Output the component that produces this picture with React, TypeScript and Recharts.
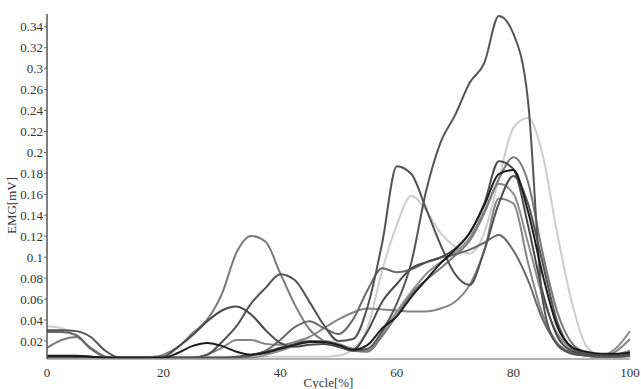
import React from "react";
import { LineChart, Line, XAxis, YAxis } from "recharts";

// cycle position in %, sampled every 2.5
const cycle = [
  0, 2.5, 5, 7.5, 10, 12.5, 15, 17.5, 20, 22.5, 25, 27.5, 30, 32.5, 35, 37.5,
  40, 42.5, 45, 47.5, 50, 52.5, 55, 57.5, 60, 62.5, 65, 67.5, 70, 72.5, 75,
  77.5, 80, 82.5, 85, 87.5, 90, 92.5, 95, 97.5, 100,
];

// EMG traces in mV
const trialA = [
  0.031, 0.031, 0.03, 0.024, 0.01, 0.003, 0.003, 0.003, 0.003, 0.003, 0.003,
  0.003, 0.003, 0.004, 0.006, 0.009, 0.013, 0.017, 0.02, 0.019, 0.015, 0.01,
  0.012, 0.03, 0.058, 0.1, 0.172, 0.222, 0.25, 0.283, 0.303, 0.351, 0.333,
  0.265, 0.062, 0.016, 0.007, 0.005, 0.004, 0.004, 0.005,
];
const trialB = [
  0.029, 0.029, 0.026, 0.012, 0.004, 0.003, 0.003, 0.003, 0.003, 0.003, 0.003,
  0.003, 0.003, 0.003, 0.005, 0.01, 0.021, 0.034, 0.04, 0.033, 0.027, 0.042,
  0.072, 0.094, 0.09, 0.093, 0.1, 0.105, 0.108, 0.113, 0.12, 0.128, 0.112,
  0.082, 0.042, 0.017, 0.008, 0.005, 0.004, 0.004, 0.005,
];
const trialC = [
  0.013, 0.021, 0.024, 0.013, 0.004, 0.002, 0.002, 0.003, 0.006, 0.014, 0.028,
  0.042, 0.068, 0.11, 0.127, 0.121, 0.089, 0.057, 0.032, 0.02, 0.014, 0.01,
  0.009, 0.025, 0.046, 0.068, 0.082, 0.094, 0.107, 0.122, 0.15, 0.185, 0.207,
  0.182, 0.11, 0.05, 0.018, 0.008, 0.005, 0.006, 0.01,
];
const trialD = [
  0.004, 0.004, 0.004, 0.004, 0.003, 0.003, 0.003, 0.003, 0.003, 0.003, 0.003,
  0.006, 0.019, 0.035, 0.058, 0.074, 0.088, 0.082, 0.06, 0.036, 0.02, 0.022,
  0.055, 0.12, 0.198, 0.19, 0.155, 0.118, 0.088, 0.077, 0.112, 0.16, 0.188,
  0.16, 0.1, 0.04, 0.013, 0.007, 0.005, 0.005, 0.006,
];
const trialE = [
  0.004, 0.004, 0.004, 0.004, 0.003, 0.003, 0.003, 0.003, 0.004, 0.014, 0.026,
  0.04, 0.051, 0.055, 0.047, 0.031, 0.018, 0.014, 0.016, 0.017, 0.014, 0.011,
  0.03, 0.06, 0.078, 0.094, 0.1, 0.105, 0.114, 0.13, 0.16, 0.203, 0.195,
  0.138, 0.07, 0.025, 0.01, 0.006, 0.005, 0.005, 0.006,
];
const trialF = [
  0.005, 0.005, 0.005, 0.004, 0.003, 0.003, 0.003, 0.003, 0.003, 0.008, 0.015,
  0.018, 0.015, 0.009, 0.006, 0.008, 0.012, 0.016, 0.019, 0.019, 0.016, 0.011,
  0.016, 0.033, 0.045, 0.065, 0.082, 0.099, 0.113, 0.13, 0.158, 0.19, 0.194,
  0.152, 0.088, 0.035, 0.014, 0.009, 0.007, 0.007, 0.008,
];
const trialG = [
  0.003, 0.003, 0.003, 0.003, 0.003, 0.003, 0.003, 0.003, 0.003, 0.003, 0.003,
  0.006, 0.013, 0.021, 0.021, 0.017, 0.016, 0.019, 0.024, 0.033, 0.042, 0.049,
  0.053, 0.052, 0.051, 0.05, 0.05, 0.053, 0.06, 0.077, 0.112, 0.165, 0.16,
  0.1, 0.047, 0.018, 0.008, 0.005, 0.004, 0.009, 0.022,
];
const trialH = [
  0.035, 0.033, 0.025, 0.012, 0.004, 0.004, 0.004, 0.004, 0.004, 0.004, 0.004,
  0.004, 0.004, 0.004, 0.004, 0.004, 0.004, 0.004, 0.004, 0.004, 0.005, 0.012,
  0.034, 0.092, 0.138, 0.168, 0.153, 0.13, 0.116, 0.109, 0.13, 0.185, 0.237,
  0.247, 0.21, 0.13, 0.06, 0.015, 0.005, 0.004, 0.004,
];
const trialI = [
  0.004, 0.004, 0.004, 0.004, 0.003, 0.003, 0.003, 0.003, 0.003, 0.003, 0.003,
  0.003, 0.003, 0.003, 0.003, 0.006, 0.01, 0.015, 0.019, 0.02, 0.017, 0.012,
  0.01, 0.028, 0.05, 0.07, 0.088, 0.1, 0.11, 0.125, 0.152, 0.18, 0.17, 0.12,
  0.065, 0.028, 0.012, 0.007, 0.005, 0.012, 0.03,
];

const yLabels = [
  "0.02", "0.04", "0.06", "0.08", "0.1", "0.12", "0.14", "0.16", "0.18",
  "0.2", "0.22", "0.24", "0.26", "0.3", "0.32", "0.34",
];
const xTicks = [0, 20, 40, 60, 80, 100];

const series = [
  { key: "h", values: trialH, color: "#cdcdcd" },
  { key: "g", values: trialG, color: "#858585" },
  { key: "i", values: trialI, color: "#8e8e8e" },
  { key: "c", values: trialC, color: "#7a7a7a" },
  { key: "b", values: trialB, color: "#6a6a6a" },
  { key: "d", values: trialD, color: "#525252" },
  { key: "e", values: trialE, color: "#4a4a4a" },
  { key: "a", values: trialA, color: "#555555" },
  { key: "f", values: trialF, color: "#1c1c1c" },
];

const data = cycle.map((c, i) => {
  const row: Record<string, number> = { cycle: c };
  series.forEach((s) => (row[s.key] = s.values[i]));
  return row;
});

// labels are evenly spaced between 0.02 and 0.34
const yTicks = yLabels.map((_, i) => 0.02 + (i * 0.32) / (yLabels.length - 1));
const labelFor = (v: number) => {
  let best = 0;
  yTicks.forEach((t, i) => {
    if (Math.abs(t - v) < Math.abs(yTicks[best] - v)) best = i;
  });
  return yLabels[best];
};

const font = "'Liberation Serif', 'Times New Roman', serif";

export default function App() {
  return (
    <div
      style={{
        position: "absolute",
        left: 0,
        top: 0,
        width: 641,
        height: 389,
        background: "#fff",
      }}
    >
      <LineChart
        width={641}
        height={389}
        data={data}
        margin={{ top: 14, right: 11, bottom: 0, left: 0 }}
      >
        <XAxis
          dataKey="cycle"
          type="number"
          domain={[0, 100]}
          ticks={xTicks}
          interval={0}
          height={30}
          tickLine={false}
          axisLine={{ stroke: "#9a9a9a", strokeWidth: 1.5 }}
          tick={{ fontFamily: font, fontSize: 13, fill: "#333" }}
          tickMargin={3}
          label={(p: any) => {
            const vb = p.viewBox;
            return (
              <text
                x={vb.x + vb.width / 2 - 10}
                y={vb.y + 23}
                textAnchor="middle"
                dominantBaseline="central"
                fontFamily={font}
                fontSize={13}
                fill="#333"
              >
                Cycle[%]
              </text>
            );
          }}
        />
        <YAxis
          type="number"
          width={47}
          domain={[0.0016, 0.353]}
          allowDataOverflow
          ticks={yTicks}
          interval={0}
          tickFormatter={(v: number) => labelFor(v)}
          tickSize={3}
          tickMargin={1}
          tickLine={{ stroke: "#666" }}
          axisLine={{ stroke: "#555", strokeWidth: 1.5 }}
          tick={{ fontFamily: font, fontSize: 13, fill: "#333" }}
          label={(p: any) => {
            const vb = p.viewBox;
            const x = vb.x + 11;
            const y = vb.y + vb.height / 2 + 19;
            return (
              <text
                x={x}
                y={y}
                transform={`rotate(-90 ${x} ${y})`}
                textAnchor="middle"
                dominantBaseline="central"
                fontFamily={font}
                fontSize={13}
                fill="#333"
              >
                EMG[mV]
              </text>
            );
          }}
        />
        {series.map((s) => (
          <Line
            key={s.key}
            dataKey={s.key}
            type="monotone"
            stroke={s.color}
            strokeWidth={2}
            dot={false}
            activeDot={false}
            isAnimationActive={false}
          />
        ))}
      </LineChart>
    </div>
  );
}
